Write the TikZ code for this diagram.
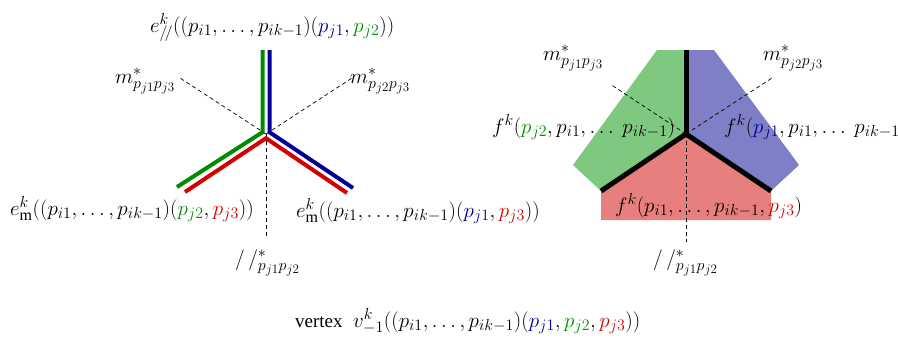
\RequirePackage{fix-cm}
\documentclass[tikz,border=0pt]{standalone}
\usepackage{fontspec}
\setmainfont{Liberation Serif}
\DeclareMathSizes{21}{21}{16}{13}
\definecolor{cG}{RGB}{0,140,0}
\definecolor{cB}{RGB}{0,0,150}
\definecolor{cR}{RGB}{210,0,0}
\definecolor{fG}{RGB}{127,200,127}
\definecolor{fB}{RGB}{127,127,200}
\definecolor{fR}{RGB}{232,127,127}
\newcommand{\pG}[1]{\textcolor{cG}{p_{#1}}}
\newcommand{\pB}[1]{\textcolor{cB}{p_{#1}}}
\newcommand{\pR}[1]{\textcolor{cR}{p_{#1}}}
\tikzset{
  lbl/.style={anchor=base west, inner sep=0pt, font=\fontsize{21}{24}\selectfont},
  guide/.style={dash pattern=on 4pt off 3pt, line width=0.7pt},
  edgeline/.style={line width=4pt},
  blackedge/.style={line width=5pt, black}
}
\begin{document}
\begin{tikzpicture}[x=1pt,y=-1pt]
\useasboundingbox (0,0) rectangle (898,346);
% ---- left figure ----
\coordinate (C) at (266,134);
\coordinate (dUL) at (180,78);
\coordinate (dUR) at (352,78);
\coordinate (dD) at (266,238);
\draw[guide] (C) -- (dUL);
\draw[guide] (C) -- (dUR);
\draw[guide] (C) -- (dD);
\coordinate (gTop) at (262.5,50);
\coordinate (gCor) at (262.5,132.2);
\coordinate (gEnd) at (177,187);
\coordinate (bTop) at (269.5,50);
\coordinate (bCor) at (269.5,132.2);
\coordinate (bEnd) at (353,188);
\coordinate (rL) at (185,192);
\coordinate (rCor) at (266,138.2);
\coordinate (rR) at (347,193);
\draw[edgeline, cG] (gTop) -- (gCor) -- (gEnd);
\draw[edgeline, cB] (bTop) -- (bCor) -- (bEnd);
\draw[edgeline, cR] (rL) -- (rCor) -- (rR);
% ---- right figure ----
\coordinate (C2) at (686,134);
\coordinate (T2) at (686,50);
\coordinate (LL) at (601,191);
\coordinate (LR) at (771,191);
\fill[fG] (657,50) -- (T2) -- (C2) -- (LL) -- (573,165) -- cycle;
\fill[fB] (T2) -- (714,50) -- (799,165) -- (LR) -- (C2) -- cycle;
\fill[fR] (C2) -- (LR) -- (771,220) -- (601,220) -- (LL) -- cycle;
\coordinate (eUL) at (610,84);
\coordinate (eUR) at (772,78);
\coordinate (eD) at (686,242);
\draw[guide] (C2) -- (eUL);
\draw[guide] (C2) -- (eUR);
\draw[guide] (C2) -- (eD);
\draw[blackedge] (T2) -- (C2);
\draw[blackedge] (LL) -- (C2) -- (LR);
% ---- labels ----
\node[lbl] (ltop) at (150,32) {$e^k_{/\!/}((p_{i1}, \ldots ,p_{ik-1})(\pB{j1},\pG{j2}))$};
\node[lbl] (lm1) at (115,83) {$m^*_{p_{j1}p_{j3}}$};
\node[lbl] (lm2) at (350,83) {$m^*_{p_{j2}p_{j3}}$};
\node[lbl] (lbl1) at (10,215) {$e^k_{\mathrm{m}}((p_{i1}, \ldots ,p_{ik-1})(\pG{j2},\pR{j3}))$};
\node[lbl] (lbr) at (296,217) {$e^k_{\mathrm{m}}((p_{i1}, \ldots ,p_{ik-1})(\pB{j1},\pR{j3}))$};
\node[lbl] (lpar) at (235,265) {$/\,/^*_{p_{j1}p_{j2}}$};
\node[lbl] (rm1) at (543,60) {$m^*_{p_{j1}p_{j3}}$};
\node[lbl] (rm2) at (763,60) {$m^*_{p_{j2}p_{j3}}$};
\node[lbl] (rfl) at (492,133) {$f^k(\pG{j2}, p_{i1}, \ldots\ p_{ik-1})$};
\node[lbl] (rfr) at (724,133) {$f^k(\pB{j1}, p_{i1}, \ldots\ p_{ik-1}$};
\node[lbl] (rfb) at (615,212) {$f^k(p_{i1}, \ldots ,p_{ik-1}, \pR{j3})$};
\node[lbl] (rpar) at (653,265) {$/\,/^*_{p_{j1}p_{j2}}$};
\node[lbl] (vtx) at (295,327) {{\fontsize{19}{22}\selectfont vertex}\ \ $v^k_{-1}((p_{i1}, \ldots ,p_{ik-1})(\pB{j1}, \pG{j2}, \pR{j3}))$};
\end{tikzpicture}
\end{document}
